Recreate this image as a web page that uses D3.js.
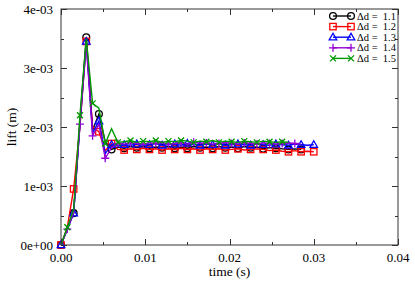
<!DOCTYPE html>
<html>
<head>
<meta charset="utf-8">
<script src="https://cdn.jsdelivr.net/npm/d3@7"></script>
<style>
  html, body { margin: 0; padding: 0; background: #fff; }
  svg { display: block; }
</style>
</head>
<body>
<div id="chart"></div>
<script>
// time grid (s)
const times = [0, 0.00075, 0.0015, 0.00225, 0.003, 0.00375, 0.0045, 0.00525, 0.006, 0.00675,
  0.0075, 0.00825, 0.009, 0.00975, 0.0105, 0.01125, 0.012, 0.01275, 0.0135, 0.01425,
  0.015, 0.01575, 0.0165, 0.01725, 0.018, 0.01875, 0.0195, 0.02025, 0.021, 0.02175,
  0.0225, 0.02325, 0.024, 0.02475, 0.0255, 0.02625, 0.027, 0.02775, 0.0285, 0.02925, 0.03];

// lift values, in units of 1e-3 m
const lift11 = [0, 0.27, 0.54, 2.1, 3.52, 1.95, 2.22, 1.75, 1.62, 1.66, 1.64, 1.67, 1.65, 1.67, 1.64, 1.66,
  1.65, 1.67, 1.64, 1.66, 1.64, 1.67, 1.65, 1.66, 1.64, 1.67, 1.65, 1.66, 1.64, 1.67, 1.65, 1.66,
  1.63, 1.65, 1.64, 1.63, 1.62, 1.63, 1.62];
const lift12 = [0, 0.3, 0.95, 2.0, 3.45, 2.0, 1.92, 1.6, 1.72, 1.62, 1.61, 1.63, 1.62, 1.64, 1.62, 1.63,
  1.61, 1.63, 1.62, 1.64, 1.62, 1.63, 1.61, 1.63, 1.62, 1.63, 1.61, 1.62, 1.63, 1.61, 1.62, 1.63,
  1.62, 1.6, 1.61, 1.59, 1.58, 1.6, 1.58, 1.59, 1.58];
const lift13 = [0, 0.27, 0.54, 2.05, 3.45, 1.9, 2.1, 1.55, 1.7, 1.68, 1.7, 1.69, 1.71, 1.69, 1.7, 1.72,
  1.69, 1.7, 1.71, 1.69, 1.72, 1.7, 1.69, 1.71, 1.7, 1.72, 1.69, 1.7, 1.71, 1.7, 1.69, 1.72,
  1.7, 1.69, 1.71, 1.7, 1.69, 1.71, 1.7, 1.69, 1.7];
const lift14 = [0, 0.27, 0.55, 2.05, 3.4, 1.85, 2.05, 1.47, 1.65, 1.72, 1.71, 1.73, 1.72, 1.71, 1.73, 1.72,
  1.74, 1.71, 1.72, 1.73, 1.71, 1.74, 1.72, 1.73, 1.71, 1.72, 1.74, 1.72, 1.71, 1.73, 1.72, 1.71,
  1.73, 1.72, 1.71, 1.72, 1.73, 1.72, 1.71];
const lift15 = [0, 0.3, 0.6, 2.2, 3.5, 2.4, 2.32, 1.72, 1.97, 1.74, 1.75, 1.77, 1.74, 1.76, 1.75, 1.77,
  1.74, 1.76, 1.75, 1.77, 1.76, 1.74, 1.76, 1.75, 1.77, 1.74, 1.76, 1.75, 1.74, 1.76, 1.75, 1.74,
  1.76, 1.75, 1.74, 1.75, 1.74];

const seriesNames = ["1.1", "1.2", "1.3", "1.4", "1.5"];
const seriesValues = [lift11, lift12, lift13, lift14, lift15];
const seriesColors = ["#000000", "#ff0000", "#0000ff", "#9400d3", "#009900"];
const seriesMarkers = ["circle", "square", "triangle", "plus", "cross"];
const markerOffsets = [0, 0, 0, 1, 1];

const xTicks = [0, 0.01, 0.02, 0.03, 0.04];
const xTickLabels = ["0.00", "0.01", "0.02", "0.03", "0.04"];
const yTicks = [0, 1, 2, 3, 4];
const yTickLabels = ["0e+00", "1e-03", "2e-03", "3e-03", "4e-03"];

const FONT = "'Liberation Serif', 'Times New Roman', Times, 'DejaVu Serif', serif";

const width = 415, height = 282;
const margin = { top: 9, right: 17, bottom: 37, left: 61 };

const svg = d3.select("#chart").append("svg")
    .attr("width", width)
    .attr("height", height)
    .attr("font-family", FONT);

const x = d3.scaleLinear().domain([0, 0.04]).range([margin.left, width - margin.right]);
const y = d3.scaleLinear().domain([0, 4]).range([height - margin.bottom, margin.top]);

const x0 = x.range()[0], x1 = x.range()[1], y0 = y.range()[0], y1 = y.range()[1];

// ticks (inside, mirrored on all sides)
const tickG = svg.append("g").attr("stroke", "#333").attr("stroke-width", 1);
const xMinor = d3.range(0, 0.0401, 0.005);
xMinor.forEach(v => {
    const major = xTicks.some(t => Math.abs(t - v) < 1e-9);
    const len = major ? 6 : 3;
    const px = Math.round(x(v)) + 0.5;
    tickG.append("line").attr("x1", px).attr("x2", px).attr("y1", y0).attr("y2", y0 - len);
    tickG.append("line").attr("x1", px).attr("x2", px).attr("y1", y1).attr("y2", y1 + len);
});
const yMinor = d3.range(0, 4.01, 0.5);
yMinor.forEach(v => {
    const major = yTicks.some(t => Math.abs(t - v) < 1e-9);
    const len = major ? 6 : 3;
    const py = Math.round(y(v)) + 0.5;
    tickG.append("line").attr("x1", x0).attr("x2", x0 + len).attr("y1", py).attr("y2", py);
    tickG.append("line").attr("x1", x1).attr("x2", x1 - len).attr("y1", py).attr("y2", py);
});

// tick labels
svg.append("g").selectAll("text")
    .data(xTicks)
    .join("text")
    .attr("x", d => x(d))
    .attr("y", 262)
    .attr("text-anchor", "middle")
    .attr("font-family", FONT)
    .attr("font-size", 13)
    .text((d, i) => xTickLabels[i]);

svg.append("g").selectAll("text")
    .data(yTicks)
    .join("text")
    .attr("x", 53)
    .attr("y", d => y(d) + 4.5)
    .attr("text-anchor", "end")
    .attr("font-family", FONT)
    .attr("font-size", 13)
    .text((d, i) => yTickLabels[i]);

// axis titles
svg.append("text")
    .attr("x", (x0 + x1) / 2)
    .attr("y", 276)
    .attr("text-anchor", "middle")
    .attr("font-family", FONT)
    .attr("font-size", 13.5)
    .text("time (s)");

svg.append("text")
    .attr("transform", `translate(16,${(y0 + y1) / 2}) rotate(-90)`)
    .attr("text-anchor", "middle")
    .attr("font-family", FONT)
    .attr("font-size", 13.5)
    .text("lift (m)");

// marker drawing
function drawMarker(g, type, cx, cy, color) {
    const m = g.append("g").attr("fill", "none").attr("stroke", color).attr("stroke-width", 1.3);
    if (type === "circle") {
        m.append("circle").attr("cx", cx).attr("cy", cy).attr("r", 3.4);
    } else if (type === "square") {
        m.append("rect").attr("x", cx - 3.2).attr("y", cy - 3.2).attr("width", 6.4).attr("height", 6.4);
    } else if (type === "triangle") {
        m.append("path").attr("d", `M${cx},${cy - 4}L${cx + 3.8},${cy + 2.7}L${cx - 3.8},${cy + 2.7}Z`);
    } else if (type === "plus") {
        m.append("path").attr("d", `M${cx - 4},${cy}H${cx + 4}M${cx},${cy - 4}V${cy + 4}`);
    } else {
        m.append("path").attr("d", `M${cx - 3},${cy - 3}L${cx + 3},${cy + 3}M${cx - 3},${cy + 3}L${cx + 3},${cy - 3}`);
    }
}

// series
const plot = svg.append("g");
const line = d3.line().x(d => x(d[0])).y(d => y(d[1]));
seriesValues.forEach((vals, s) => {
    const pts = vals.map((v, i) => [times[i], v]);
    plot.append("path")
        .attr("d", line(pts))
        .attr("fill", "none")
        .attr("stroke", seriesColors[s])
        .attr("stroke-width", 1.4);
    const mg = plot.append("g");
    pts.forEach((p, i) => {
        if ((i + markerOffsets[s]) % 2 === 0) drawMarker(mg, seriesMarkers[s], x(p[0]), y(p[1]), seriesColors[s]);
    });
});

// border
svg.append("rect")
    .attr("x", x0).attr("y", y1)
    .attr("width", x1 - x0).attr("height", y0 - y1)
    .attr("fill", "none")
    .attr("stroke", "#333")
    .attr("stroke-width", 1);

// legend
const legend = svg.append("g");
seriesNames.forEach((name, s) => {
    const ly = 16 + s * 10.6;
    legend.append("line")
        .attr("x1", 333).attr("x2", 351).attr("y1", ly).attr("y2", ly)
        .attr("stroke", seriesColors[s]).attr("stroke-width", 1.4);
    drawMarker(legend, seriesMarkers[s], 333, ly, seriesColors[s]);
    drawMarker(legend, seriesMarkers[s], 351, ly, seriesColors[s]);
    legend.append("text")
        .attr("x", 357)
        .attr("y", ly + 3.5)
        .attr("font-family", FONT)
        .attr("font-size", 10.5)
        .attr("xml:space", "preserve")
        .style("white-space", "pre")
        .text("\u0394d =  " + name);
});
</script>
</body>
</html>
